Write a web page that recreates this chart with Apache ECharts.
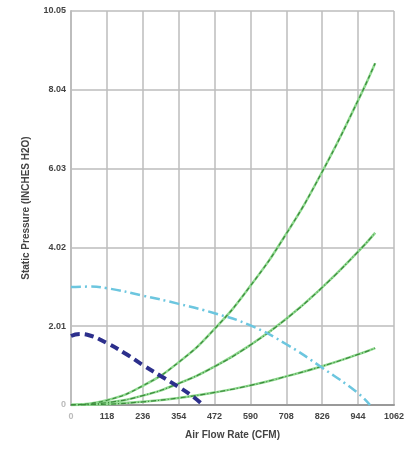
<!DOCTYPE html>
<html>
<head>
<meta charset="utf-8">
<script src="https://cdn.jsdelivr.net/npm/echarts@6/dist/echarts.min.js"></script>
<style>
    html, body {margin: 0; padding: 0; background: #fff;}
    #chart {width: 420px; height: 450px;}
</style>
</head>
<body>
<div id="chart"></div>
<script>
// 刻度
var aXTicks = [0, 118, 236, 354, 472, 590, 708, 826, 944, 1062];
var aYTicks = [0, 2.01, 4.02, 6.03, 8.04, 10.05];

// 风机曲线 (CFM, inches H2O)
var aFanSmallX = [0, 30, 59, 118, 177, 236, 295, 354, 400, 434];
var aFanSmallY = [1.76, 1.81, 1.78, 1.58, 1.32, 1.02, 0.74, 0.46, 0.22, 0];
var aFanBigX = [0, 59, 118, 236, 354, 472, 590, 708, 826, 944, 983];
var aFanBigY = [3.01, 3.02, 2.98, 2.79, 2.58, 2.34, 2.03, 1.55, 0.95, 0.30, 0];

// 系统曲线
var aSysX = [0, 118, 236, 354, 472, 590, 708, 826, 944, 1000];
var aSysHigh = [0, 0.12, 0.49, 1.09, 1.94, 3.04, 4.37, 5.95, 7.77, 8.72];
var aSysMid = [0, 0.06, 0.24, 0.55, 0.98, 1.53, 2.20, 3.00, 3.91, 4.39];
var aSysLow = [0, 0.02, 0.08, 0.18, 0.32, 0.50, 0.73, 0.99, 1.29, 1.45];

function Pairs(aX, aY) {
    var aOut = [];
    for (var i = 0; i < aX.length; i++) {
        aOut.push([aX[i], aY[i]]);
    }
    return aOut
}

function SysSeries(aY, aDash) {
    // 浅绿底线 + 深绿虚线
    return [
        {
            type: 'line', smooth: true, symbol: 'none', z: 3,
            lineStyle: {color: '#8fd98f', width: 2.5},
            data: Pairs(aSysX, aY)
        },
        {
            type: 'line', smooth: true, symbol: 'none', z: 4,
            lineStyle: {color: '#3b8a3b', width: 1.2, type: aDash},
            data: Pairs(aSysX, aY)
        }
    ]
}

function GetOption() {
    var sFont = 'Liberation Sans';
    var aSeries = [];
    aSeries = aSeries.concat(SysSeries(aSysHigh, [4, 3]));
    aSeries = aSeries.concat(SysSeries(aSysMid, [5, 2, 1, 2]));
    aSeries = aSeries.concat(SysSeries(aSysLow, [5, 2, 1, 2]));
    aSeries.push({
        type: 'line', smooth: true, symbol: 'none', z: 5,
        lineStyle: {color: '#6cc6df', width: 2.5, type: [10, 4, 2, 4]},
        data: Pairs(aFanBigX, aFanBigY)
    });
    aSeries.push({
        type: 'line', smooth: true, symbol: 'none', z: 6,
        lineStyle: {color: '#2c2f8c', width: 4, type: [9, 5]},
        data: Pairs(aFanSmallX, aFanSmallY)
    });
    var jOption = {
        animation: false,
        backgroundColor: '#fff',
        grid: {left: 71, right: 26, top: 11, bottom: 45},
        xAxis: {
            type: 'value',
            min: 0, max: aXTicks[aXTicks.length - 1], interval: aXTicks[1],
            name: 'Air Flow Rate (CFM)',
            nameLocation: 'middle', nameGap: 25,
            nameTextStyle: {fontFamily: sFont, fontSize: 10, fontWeight: 'bold', color: '#444'},
            axisLine: {show: true, lineStyle: {color: '#999', width: 2}},
            axisTick: {show: false},
            axisLabel: {
                margin: 7, fontFamily: sFont, fontSize: 9, fontWeight: 'bold',
                color: function (v) { return v == 0 ? '#bbb' : '#444'; },
                formatter: function (v) { return String(v); }
            },
            splitLine: {show: true, lineStyle: {color: '#bdbdbd', width: 1.5}}
        },
        yAxis: {
            type: 'value',
            min: 0, max: aYTicks[aYTicks.length - 1], interval: aYTicks[1],
            name: 'Static Pressure (INCHES H2O)',
            nameLocation: 'middle', nameGap: 40,
            nameTextStyle: {fontFamily: sFont, fontSize: 10, fontWeight: 'bold', color: '#444'},
            axisLine: {show: true, lineStyle: {color: '#bdbdbd', width: 2}},
            axisTick: {show: false},
            axisLabel: {
                margin: 5, fontFamily: sFont, fontSize: 9, fontWeight: 'bold',
                color: function (v) { return v == 0 ? '#bbb' : '#444'; },
                formatter: function (v) { return v == 0 ? '0' : v.toFixed(2); }
            },
            splitLine: {show: true, lineStyle: {color: '#bdbdbd', width: 1.5}}
        },
        series: aSeries
    };
    return jOption
}

function SetOption(jOption, sTagID) {
    var objectDom = document.getElementById(sTagID);
    var myChart = echarts.init(objectDom);
    myChart.setOption(jOption);
    return myChart
}

SetOption(GetOption(), 'chart');
</script>
</body>
</html>
